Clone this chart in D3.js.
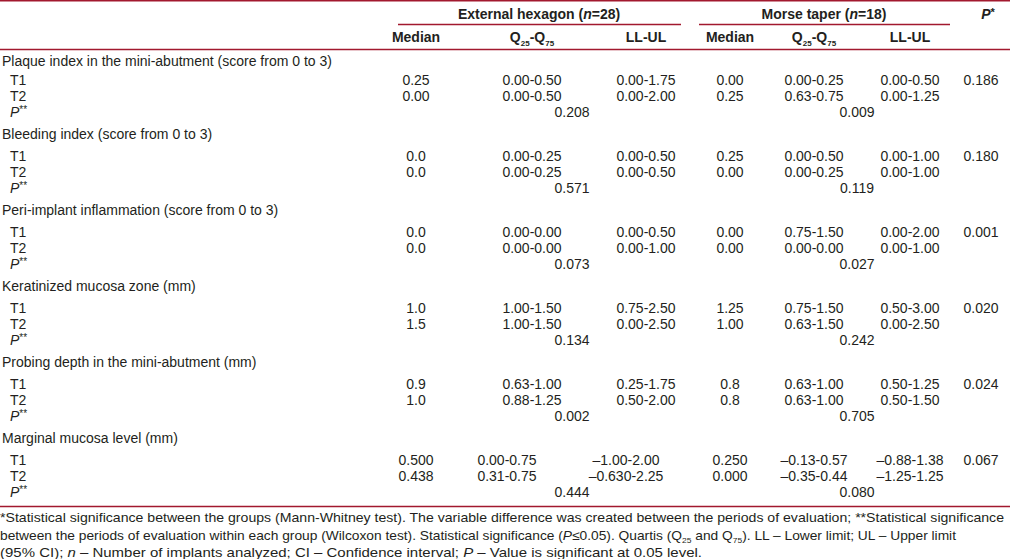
<!DOCTYPE html>
<html><head><meta charset="utf-8">
<script src="https://cdn.jsdelivr.net/npm/d3@7/dist/d3.min.js"></script>
<style>
html,body{margin:0;padding:0;background:#fff;}
svg{display:block;font-family:"Liberation Sans",Arial,Helvetica,sans-serif;}
</style></head>
<body>
<svg id="c" width="1010" height="559"></svg>
<script>
// ---------- data ----------
const groups = [
  "Plaque index in the mini-abutment (score from 0 to 3)",
  "Bleeding index (score from 0 to 3)",
  "Peri-implant inflammation (score from 0 to 3)",
  "Keratinized mucosa zone (mm)",
  "Probing depth in the mini-abutment (mm)",
  "Marginal mucosa level (mm)"
];
const periods = ["T1", "T2"];
const ehMedian = [["0.25","0.00"],["0.0","0.0"],["0.0","0.0"],["1.0","1.5"],["0.9","1.0"],["0.500","0.438"]];
const ehQ = [["0.00-0.50","0.00-0.50"],["0.00-0.25","0.00-0.25"],["0.00-0.00","0.00-0.00"],["1.00-1.50","1.00-1.50"],["0.63-1.00","0.88-1.25"],["0.00-0.75","0.31-0.75"]];
const ehLL = [["0.00-1.75","0.00-2.00"],["0.00-0.50","0.00-0.50"],["0.00-0.50","0.00-1.00"],["0.75-2.50","0.00-2.50"],["0.25-1.75","0.50-2.00"],["\u20131.00-2.00","\u20130.630-2.25"]];
const mtMedian = [["0.00","0.25"],["0.25","0.00"],["0.00","0.00"],["1.25","1.00"],["0.8","0.8"],["0.250","0.000"]];
const mtQ = [["0.00-0.25","0.63-0.75"],["0.00-0.50","0.00-0.25"],["0.75-1.50","0.00-0.00"],["0.75-1.50","0.63-1.50"],["0.63-1.00","0.63-1.00"],["\u20130.13-0.57","\u20130.35-0.44"]];
const mtLL = [["0.00-0.50","0.00-1.25"],["0.00-1.00","0.00-1.00"],["0.00-2.00","0.00-1.00"],["0.50-3.00","0.00-2.50"],["0.50-1.25","0.50-1.50"],["\u20130.88-1.38","\u20131.25-1.25"]];
const pBetween = ["0.186","0.180","0.001","0.020","0.024","0.067"];
const pWithinEH = ["0.208","0.571","0.073","0.134","0.002","0.444"];
const pWithinMT = ["0.009","0.119","0.027","0.242","0.705","0.080"];
const groupHeaders = [{name:"External hexagon", n:"28"}, {name:"Morse taper", n:"18"}];
const subHeaders = ["Median","Q","LL-UL","Median","Q","LL-UL"];

// ---------- layout ----------
const W = 1010, H = 559;
const RED = "#a2192e", INK = "#231f20";
const svg = d3.select("#c");

const colKeys = ["ehMed","ehQ","ehLL","mtMed","mtQ","mtLL","pB"];
const xCol = d3.scaleOrdinal().domain(colKeys).range([416, 532, 646, 730, 814, 910, 981]);
// the last group (wider, signed values) is set slightly left in the external-hexagon columns
const xShift = d3.scaleOrdinal().domain(colKeys).range([0, -25, -20, 0, 0, 0, 0]);
const xP = d3.scaleOrdinal().domain(["eh","mt"]).range([572, 857]);
const xGroup = d3.scaleOrdinal().domain(["eh","mt"]).range([539, 824]);
const gy = d3.scaleLinear().domain([0, 5]).range([58, 438]);   // group heading centre
const rowOff = d3.scaleOrdinal().domain(["head","T1","T2","P"]).range([0, 21.5, 38, 54]);

const fs = 14;

// rules
const rule = (x1, x2, y, w) => svg.append("line").attr("x1", x1).attr("x2", x2)
  .attr("y1", y).attr("y2", y).attr("stroke", RED).attr("stroke-width", w || 1.3);
rule(0, W, 0.8, 1.6);
rule(398, 681, 24.5);
rule(699, 950, 24.5);
rule(0, W, 49.5);
rule(0, W, 506.5, 1.6);

// header row 1
groupHeaders.forEach((g, i) => {
  const t = svg.append("text").attr("x", xGroup(i ? "mt" : "eh")).attr("y", 18.5)
    .attr("text-anchor", "middle").attr("font-weight", "bold").attr("font-size", fs).attr("fill", INK);
  t.append("tspan").text(g.name + " (");
  t.append("tspan").attr("font-style", "italic").text("n");
  t.append("tspan").text("=" + g.n + ")");
});
{
  const t = svg.append("text").attr("x", 988).attr("y", 18.5).attr("text-anchor", "middle")
    .attr("font-weight", "bold").attr("font-size", fs).attr("fill", INK);
  t.append("tspan").attr("font-style", "italic").text("P");
  t.append("tspan").attr("font-size", 11).attr("dy", -3).text("*");
}

// header row 2
subHeaders.forEach((s, i) => {
  const t = svg.append("text").attr("x", xCol(colKeys[i])).attr("y", 42)
    .attr("text-anchor", "middle").attr("font-weight", "bold").attr("font-size", fs).attr("fill", INK);
  if (s === "Q") {
    t.append("tspan").text("Q");
    t.append("tspan").attr("font-size", 8).attr("dy", 4).text("25");
    t.append("tspan").attr("dy", -4).text("-Q");
    t.append("tspan").attr("font-size", 8).attr("dy", 4).text("75");
  } else t.text(s);
});

// body
const body = svg.append("g").attr("font-size", fs).attr("fill", INK);
const txt = (x, y, s, anchor) => body.append("text").attr("x", x).attr("y", y)
  .attr("dominant-baseline", "central").attr("text-anchor", anchor || "middle").text(s);

groups.forEach((g, gi) => {
  const y0 = gy(gi);
  const last = gi === groups.length - 1;
  const cx = k => xCol(k) + (last ? xShift(k) : 0);
  txt(2, y0 + rowOff("head") + (gi === 0 ? 3 : 0), g, "start");
  periods.forEach((p, pi) => {
    const y = y0 + rowOff(p);
    txt(10, y, p, "start");
    txt(cx("ehMed"), y, ehMedian[gi][pi]);
    txt(cx("ehQ"), y, ehQ[gi][pi]);
    txt(cx("ehLL"), y, ehLL[gi][pi]);
    txt(cx("mtMed"), y, mtMedian[gi][pi]);
    txt(cx("mtQ"), y, mtQ[gi][pi]);
    txt(cx("mtLL"), y, mtLL[gi][pi]);
    if (pi === 0) txt(cx("pB"), y, pBetween[gi]);
  });
  const yp = y0 + rowOff("P");
  const t = body.append("text").attr("x", 10).attr("y", yp).attr("dominant-baseline", "central");
  t.append("tspan").attr("font-style", "italic").text("P");
  t.append("tspan").attr("font-size", 10).attr("dy", -3).text("**");
  txt(xP("eh"), yp, pWithinEH[gi]);
  txt(xP("mt"), yp, pWithinMT[gi]);
});

// footnote
const foot = svg.append("g").attr("font-size", 13).attr("fill", INK);
const f1 = foot.append("text").attr("x", 0).attr("y", 522).attr("textLength", 1004).attr("lengthAdjust", "spacingAndGlyphs");
f1.text("*Statistical significance between the groups (Mann-Whitney test). The variable difference was created between the periods of evaluation; **Statistical significance");
const f2 = foot.append("text").attr("x", 0).attr("y", 539.5).attr("textLength", 956).attr("lengthAdjust", "spacingAndGlyphs");
f2.append("tspan").text("between the periods of evaluation within each group (Wilcoxon test). Statistical significance (");
f2.append("tspan").attr("font-style", "italic").text("P");
f2.append("tspan").text("\u22640.05). Quartis (Q");
f2.append("tspan").attr("font-size", 8).attr("dy", 3).text("25");
f2.append("tspan").attr("dy", -3).text(" and Q");
f2.append("tspan").attr("font-size", 8).attr("dy", 3).text("75");
f2.append("tspan").attr("dy", -3).text("). LL \u2013 Lower limit; UL \u2013 Upper limit");
const f3 = foot.append("text").attr("x", 0).attr("y", 557).attr("textLength", 702).attr("lengthAdjust", "spacingAndGlyphs");
f3.append("tspan").text("(95% CI); ");
f3.append("tspan").attr("font-style", "italic").text("n");
f3.append("tspan").text(" \u2013 Number of implants analyzed; CI \u2013 Confidence interval; ");
f3.append("tspan").attr("font-style", "italic").text("P");
f3.append("tspan").text(" \u2013 Value is significant at 0.05 level.");
</script>
</body></html>
